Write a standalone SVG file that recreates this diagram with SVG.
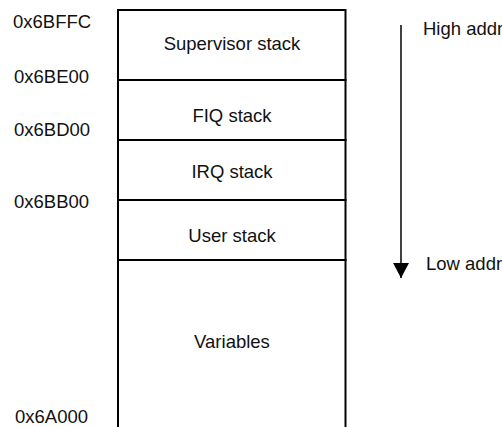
<svg xmlns="http://www.w3.org/2000/svg" width="502" height="427" viewBox="0 0 502 427">
  <style>
    .t { font-family: "Liberation Sans", Arial, sans-serif; font-size: 18.5px; fill: #111; }
    .c { text-anchor: middle; }
    .box { fill: #fff; stroke: #000; stroke-width: 2; }
  </style>
  <defs>
    <!-- filled triangular head, drawn along +x so orient="auto" follows the line -->
    <marker id="head" viewBox="0 0 15 16" refX="15" refY="8" markerWidth="15" markerHeight="16" markerUnits="userSpaceOnUse" orient="auto">
      <path d="M0,0 L15,8 L0,16 Z" fill="#000"/>
    </marker>
  </defs>
  <rect width="502" height="427" fill="#fff"/>

  <!-- memory regions, top (high) to bottom (low) -->
  <g id="supervisor">
    <rect class="box" x="118" y="10" width="227.5" height="70"/>
    <text class="t c" x="232" y="50">Supervisor stack</text>
  </g>
  <g id="fiq">
    <rect class="box" x="118" y="80" width="227.5" height="60"/>
    <text class="t c" x="232" y="121.5">FIQ stack</text>
  </g>
  <g id="irq">
    <rect class="box" x="118" y="140" width="227.5" height="60"/>
    <text class="t c" x="232" y="178">IRQ stack</text>
  </g>
  <g id="user">
    <rect class="box" x="118" y="200" width="227.5" height="60"/>
    <text class="t c" x="232" y="241.5">User stack</text>
  </g>
  <g id="variables">
    <rect class="box" x="118" y="260" width="227.5" height="180"/>
    <text class="t c" x="232" y="348">Variables</text>
  </g>

  <!-- address labels -->
  <g id="addresses">
    <text class="t" x="13" y="28">0x6BFFC</text>
    <text class="t" x="14" y="83">0x6BE00</text>
    <text class="t" x="14" y="136">0x6BD00</text>
    <text class="t" x="14" y="208">0x6BB00</text>
    <text class="t" x="15" y="423">0x6A000</text>
  </g>

  <!-- direction of decreasing addresses -->
  <g id="connectors">
    <line x1="401" y1="25" x2="401" y2="278" stroke="#000" stroke-width="1.5" marker-end="url(#head)"/>
  </g>
  <g id="direction-labels">
    <text class="t" x="423" y="35">High addr</text>
    <text class="t" x="426" y="270">Low addr</text>
  </g>
</svg>
